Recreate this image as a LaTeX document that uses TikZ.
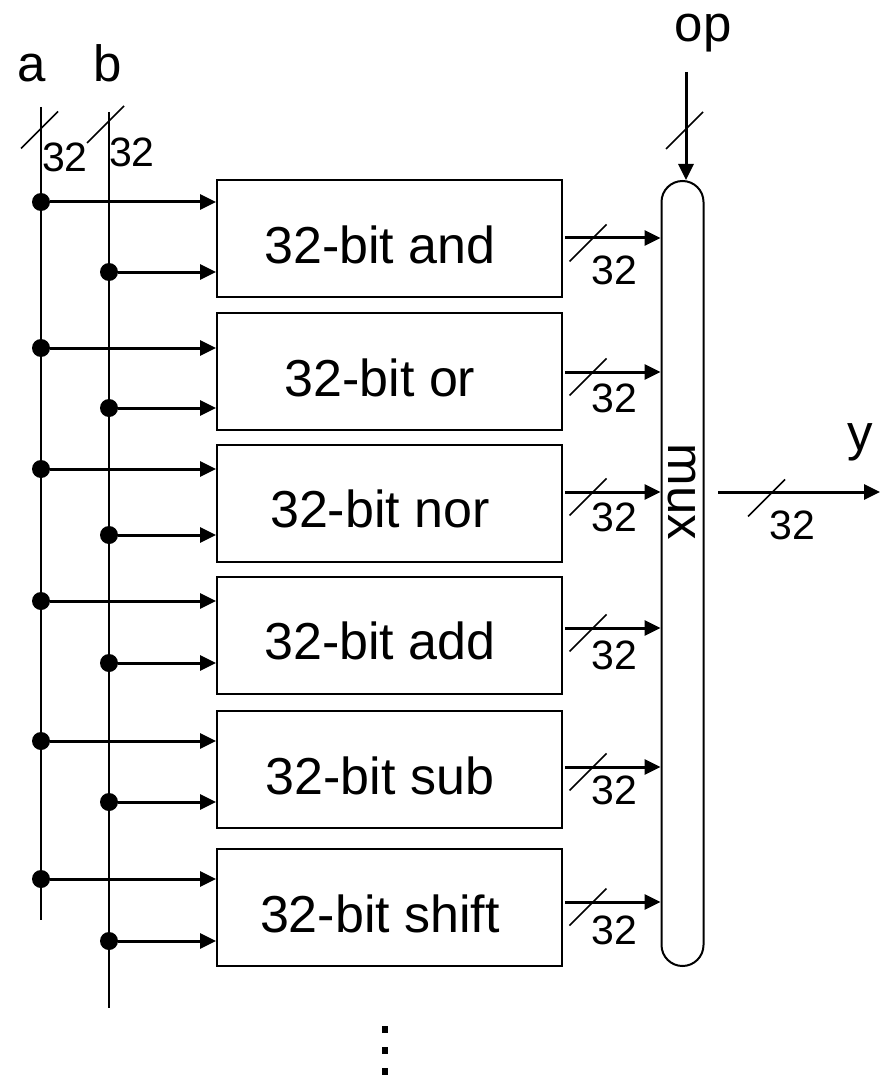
\documentclass[tikz,border=0pt]{standalone}
\usepackage{fontspec}
\setmainfont{Liberation Sans}
\usetikzlibrary{arrows.meta}
\newcommand\busslash[2]{\draw[busmark] (#1-18.5,#2+18.5) -- (#1+18.5,#2-18.5);}
\begin{document}
\begin{tikzpicture}[x=1pt,y=-1pt,
  wire/.style={line width=2pt},
  sig/.style={line width=3pt,-{Triangle[length=16pt,width=15pt]}},
  blk/.style={draw,line width=2pt,minimum width=345pt,minimum height=117pt,inner sep=0pt},
  btxt/.style={inner sep=0pt,anchor=base,font=\fontsize{52}{60}\selectfont},
  lbl/.style={inner sep=0pt,font=\fontsize{51}{60}\selectfont},
  num/.style={inner sep=0pt,font=\fontsize{41}{48}\selectfont},
  dotnode/.style={circle,fill,inner sep=0pt,minimum size=18pt},
  busmark/.style={line width=1.5pt}]
\useasboundingbox (0,0) rectangle (887,1075);

% input labels and buses
\node[lbl,anchor=base] (la) at (32,82) {a};
\node[lbl,anchor=base] (lb) at (107.5,82) {b};
\coordinate (atop) at (41,107);
\coordinate (abot) at (41,920);
\coordinate (btop) at (109,112);
\coordinate (bbot) at (109,1008);
\draw[wire] (atop) -- (abot);
\draw[wire] (btop) -- (bbot);
\busslash{39.5}{130}
\busslash{105.5}{124.5}
\node[num] (na) at (65,157) {32};
\node[num] (nb) at (132,152) {32};

% blocks
\foreach \i/\y/\t in {1/238.5/{32-bit and}, 2/371.5/{32-bit or}, 3/503/{32-bit nor}, 4/635/{32-bit add}, 5/769.5/{32-bit sub}, 6/907.5/{32-bit shift}}{
  \node[blk] (b\i) at (389.5,\y) {};
  \node[btxt] (t\i) at (380,\y+24.5) {\t};
}

% mux
\node[draw,line width=2pt,rounded corners=21pt,minimum width=42pt,minimum height=785pt,inner sep=0pt] (mux) at (682.5,573.5) {};
\node[lbl,rotate=-90] (muxt) at (682,492) {mux};

% inputs
\foreach \i/\ya/\yb in {1/202/272, 2/348/408, 3/469/535, 4/601/663, 5/741/802, 6/879/941}{
  \node[dotnode] (da\i) at (41,\ya) {};
  \node[dotnode] (db\i) at (109,\yb) {};
  \draw[sig] (da\i) -- (da\i -| b\i.west);
  \draw[sig] (db\i) -- (db\i -| b\i.west);
}

% outputs to mux
\foreach \i/\yo/\yn in {1/238/270, 2/372/398, 3/492/517, 4/628/655, 5/767/790, 6/902/930}{
  \coordinate (o\i) at (565,\yo);
  \draw[sig] (o\i) -- (o\i -| mux.west);
  \busslash{588}{\yo+5}
  \node[num] (n\i) at (614,\yn) {32};
}

% op control
\node[lbl,anchor=base] (op) at (703,42) {op};
\coordinate (optop) at (686,72);
\draw[sig] (optop) -- (optop |- mux.north);
\busslash{684.5}{130.5}

% y output
\coordinate (yst) at (718,492);
\coordinate (yend) at (880,492);
\draw[sig] (yst) -- (yend);
\busslash{766.5}{498}
\node[num] (ny) at (792,525) {32};
\node[lbl,anchor=base] (ly) at (860,450) {y};

% ellipsis
\foreach \yy in {1026,1047,1068}{
  \fill (382,\yy) rectangle (388,\yy+7);
}
\end{tikzpicture}
\end{document}
